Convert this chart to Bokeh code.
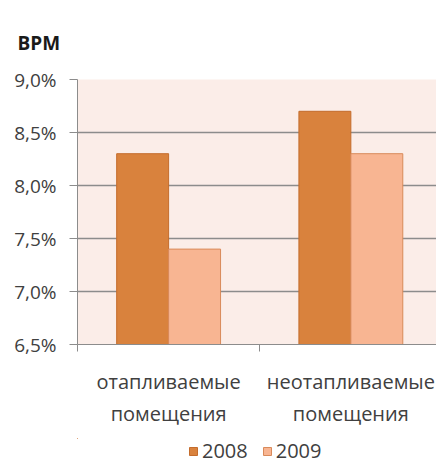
from bokeh.plotting import figure
from bokeh.models import Range1d, FixedTicker, Legend, LegendItem, ColumnDataSource, Title
from bokeh.layouts import column
from bokeh.embed import file_html
from bokeh.resources import INLINE

categories = ["отапливаемые\nпомещения", "неотапливаемые\nпомещения"]
series_names = ["2008", "2009"]
values_2008 = [8.3, 8.7]
values_2009 = [7.4, 8.3]
y_ticks = [6.5, 7.0, 7.5, 8.0, 8.5, 9.0]
y_tick_labels = ["6,5%", "7,0%", "7,5%", "8,0%", "8,5%", "9,0%"]
title_text = "ВРМ"

colors = ["#D9823D", "#F8B592"]
line_colors = ["#C46C2C", "#D98A5A"]
FONT = "Open Sans"
TXT = "#404040"

p = figure(output_backend="svg", toolbar_location=None,
           frame_width=359, frame_height=265,
           x_range=Range1d(0, 1.97), y_range=Range1d(6.5, 9.0))
p.min_border_left = 77
p.min_border_top = 79
p.min_border_right = 0
p.min_border_bottom = 94
p.background_fill_color = "#FBEDE8"
p.border_fill_color = "white"
p.outline_line_color = None

t = Title(text=title_text, text_font=FONT, text_font_size="19px",
          text_font_style="bold", text_color="#1a1a1a", align="left",
          offset=-60, standoff=48)
p.add_layout(t, "above")

bar_w = 0.285
xs = [i + 0.5 for i in range(len(categories))]
all_values = [values_2008, values_2009]
for k, vals in enumerate(all_values):
    off = (k - 0.5) * bar_w
    src = ColumnDataSource(dict(x=[x + off for x in xs], top=vals))
    p.vbar(x="x", top="top", bottom=6.5, width=bar_w, source=src,
           fill_color=colors[k], line_color=line_colors[k], line_width=1)

p.yaxis.ticker = FixedTicker(ticks=y_ticks)
p.yaxis.major_label_overrides = {v: l for v, l in zip(y_ticks, y_tick_labels)}
p.yaxis.minor_tick_line_color = None
p.yaxis.major_tick_out = 8
p.yaxis.major_tick_in = 0
p.yaxis.axis_line_color = "#8c8c8c"
p.yaxis.major_tick_line_color = "#8c8c8c"
p.yaxis.major_label_text_font = FONT
p.yaxis.major_label_text_font_size = "19px"
p.yaxis.major_label_text_color = TXT
p.yaxis.major_label_standoff = 13

p.xaxis.ticker = FixedTicker(ticks=xs, minor_ticks=[0, 1, 2])
p.xaxis.major_label_overrides = {x: c for x, c in zip(xs, categories)}
p.xaxis.major_tick_line_color = None
p.xaxis.minor_tick_line_color = "#8c8c8c"
p.xaxis.minor_tick_out = 7
p.xaxis.minor_tick_in = 0
p.xaxis.axis_line_color = "#8c8c8c"
p.xaxis.major_label_text_font = FONT
p.xaxis.major_label_text_font_size = "20px"
p.xaxis.major_label_text_color = TXT
p.xaxis.major_label_standoff = 16

p.xgrid.grid_line_color = None
p.ygrid.ticker = FixedTicker(ticks=y_ticks)
p.ygrid.grid_line_color = "#8c8c8c"
p.ygrid.grid_line_width = 1.5

# legend strip below the chart (its bars lie outside its ranges: only the legend shows)
lg = figure(output_backend="svg", toolbar_location=None, width=436, height=26,
            x_axis_location=None, y_axis_location=None,
            x_range=Range1d(10, 11), y_range=Range1d(0, 1))
lg.min_border_left = 0
lg.min_border_right = 0
lg.min_border_top = 0
lg.min_border_bottom = 0
lg.grid.visible = False
lg.outline_line_color = None
lg.border_fill_color = "white"
lg.background_fill_color = "white"
items = []
for k, n in enumerate(series_names):
    r = lg.vbar(x=xs, top=all_values[k], bottom=all_values[k], width=0.1,
                fill_color=colors[k], line_color=line_colors[k])
    items.append(LegendItem(label=n, renderers=[r]))
legend = Legend(items=items, orientation="horizontal", location=(111, 0),
                label_text_font=FONT, label_text_font_size="20px", label_text_color=TXT,
                glyph_width=10, glyph_height=10, spacing=14, label_standoff=4,
                background_fill_alpha=0, border_line_color=None, padding=0, margin=0)
lg.add_layout(legend, "center")

layout = column(p, lg, spacing=0)
open("out.html", "w").write(file_html(layout, INLINE))
